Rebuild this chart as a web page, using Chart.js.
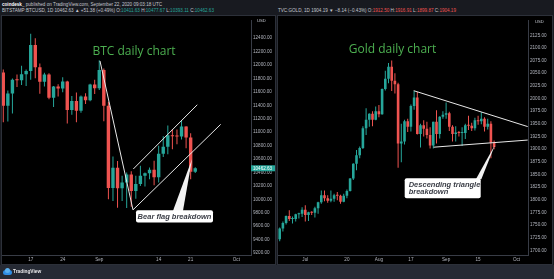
<!DOCTYPE html>
<html>
<head>
<meta charset="utf-8">
<script src="https://cdn.jsdelivr.net/npm/chart.js@4.4.1/dist/chart.umd.min.js"></script>
<style>
    html, body { margin: 0; padding: 0; }
    body {
        width: 554px; height: 279px; position: relative; overflow: hidden;
        background: #181a20; font-family: "Liberation Sans", Arial, sans-serif;
    }
    canvas { position: absolute; top: 16px; background: #000; outline: 1px solid #2c3039; }
    .hdr { position: absolute; font-size: 4.6px; line-height: 5px; color: #c3c6ce; white-space: nowrap; }
    .hdr b { color: #fff; }
    .up { color: #26a69a; }
    .dn { color: #ef5350; }
    .strip { position: absolute; left: 0; top: 265px; width: 554px; height: 14px; background: #262a34; }
    .logo { position: absolute; left: 13px; top: 269px; font-size: 4.8px; font-weight: bold; color: #e8e8ea; }
    .cloud1 { position: absolute; left: 3px; top: 270px; width: 9px; height: 5px; border-radius: 3px; background: #2f8de4; }
    .cloud2 { position: absolute; left: 5px; top: 268px; width: 5px; height: 5px; border-radius: 50%; background: #5ab0f0; }
    .usd { position: absolute; font-size: 4.2px; color: #c3c6ce; }
</style>
</head>
<body>
<div class="hdr" style="left:2px;top:2px"><b>coindesk_</b> published on TradingView.com, September 22, 2020 09:03:18 UTC</div>
<div class="hdr" style="left:2px;top:8px">BITSTAMP:BTCUSD, 1D 10462.63 ▲ +51.38 (+0.49%) O:<span class="up">10411.63</span> H:<span class="up">10477.67</span> L:<span class="up">10393.11</span> C:<span class="up">10462.63</span></div>
<div class="hdr" style="left:278px;top:8px">TVC:GOLD, 1D 1904.19 ▼ −8.14 (−0.43%) O:<span class="dn">1912.50</span> H:<span class="dn">1916.91</span> L:<span class="dn">1899.87</span> C:<span class="dn">1904.19</span></div>

<canvas id="chart-btc" width="273" height="248" style="left:2px"></canvas>
<canvas id="chart-gold" width="274" height="248" style="left:278px"></canvas>
<div class="usd" style="left:257px;top:18px">USD</div>
<div class="usd" style="left:535px;top:19px">USD</div>

<div class="strip"></div>
<div class="cloud1"></div><div class="cloud2"></div>
<div class="logo">TradingView</div>

<script>
// ---- BTC daily, Aug 11 .. Sep 22 2020 (x = bar index) ----
const btcDates = ["Aug 11","Aug 12","Aug 13","Aug 14","Aug 15","Aug 16","Aug 17","Aug 18","Aug 19","Aug 20",
    "Aug 21","Aug 22","Aug 23","Aug 24","Aug 25","Aug 26","Aug 27","Aug 28","Aug 29","Aug 30","Aug 31",
    "Sep 1","Sep 2","Sep 3","Sep 4","Sep 5","Sep 6","Sep 7","Sep 8","Sep 9","Sep 10","Sep 11","Sep 12",
    "Sep 13","Sep 14","Sep 15","Sep 16","Sep 17","Sep 18","Sep 19","Sep 20","Sep 21","Sep 22"];
const btcOpen = [11890,11395,11575,11780,11775,11865,11910,12300,11966,11750,11860,11515,11680,11650,11755,11330,11465,11320,11530,11475,11710,
    11655,11925,11395,10170,10470,10165,10250,10370,10125,10230,10350,10390,10440,10330,10680,10785,10955,10940,10935,11085,10920,10411.63];
const btcHigh = [11935,11620,11800,11860,11990,11935,12468,12400,12023,11885,11880,11690,11715,11820,11765,11540,11590,11545,11580,11720,11780,
    12070,11950,11455,10640,10570,10350,10400,10420,10350,10500,10400,10475,10575,10800,10940,11100,11045,11040,11180,11090,10985,10477.67];
const btcLow = [11150,11160,11280,11675,11705,11690,11780,11805,11573,11680,11490,11375,11530,11595,11130,11260,11150,11290,11420,11460,11570,
    11630,11165,10000,9975,9875,9975,9870,9890,10010,10200,10190,10300,10210,10250,10630,10670,10745,10820,10890,10760,10300,10393.11];
const btcClose = [11395,11575,11780,11775,11865,11910,12300,11966,11750,11860,11515,11680,11650,11755,11330,11465,11320,11530,11475,11710,11655,
    11925,11395,10170,10470,10165,10250,10370,10125,10230,10350,10390,10440,10330,10680,10785,10955,10940,10935,11085,10920,10411.63,10462.63];
const btcTickIdx = [6, 13, 21, 34, 41, 51];
const btcTickLabels = ["17", "24", "Sep", "14", "21", "Oct"];
const btcPriceTicks = [9200,9400,9600,9800,10000,10200,10400,10600,10800,11000,11200,11400,11600,11800,12000,12200,12400];
// drawn trend lines, [bar index, price]
const btcPoleLine = [[21.16, 12061], [28.38, 9843]];
const btcLowerChannel = [[28.38, 9843], [47.57, 11117]];
const btcUpperChannel = [[28.45, 10452], [42.45, 11409]];

// ---- Gold daily, Jun 19 .. Sep 22 2020 (weekdays, x = bar index) ----
const goldOpen = [1722,1743,1754,1768,1762,1762,1771,1772,1780,1770,1775,1774,1783,1795,1809,1803,1798,1802,1809,1808,1796,1808,1817,1842,
    1871,1888,1902,1941,1958,1970,1958,1975,1969,2019,2039,2063,2035,2028,1911,1915,1955,1944,1985,2002,1930,1947,1940,1928,1907,1954,
    1930,1964,1968,1971,1944,1930,1933,1932,1932,1947,1946,1941,1957,1955,1960,1944,1950,1912.50];
const goldHigh = [1745,1757,1769,1779,1767,1772,1774,1785,1789,1776,1777,1786,1796,1818,1818,1809,1818,1812,1815,1810,1812,1820,1843,1872,
    1898,1905,1945,1981,1971,1975,1984,1987,2020,2055,2070,2075,2050,2031,1950,1958,1960,1988,2015,2013,1950,1957,1954,1943,1954,1977,
    1965,1975,1992,1974,1947,1945,1936,1943,1950,1966,1952,1962,1966,1973,1963,1960,1955,1916.91];
const goldLow = [1718,1737,1751,1758,1753,1757,1763,1766,1757,1758,1770,1765,1772,1792,1797,1794,1795,1796,1799,1792,1795,1803,1816,1839,
    1858,1882,1900,1928,1944,1945,1957,1963,1968,2016,2030,2015,2010,1863,1874,1909,1934,1935,1978,1929,1903,1925,1921,1901,1901,1911,
    1921,1960,1960,1936,1915,1915,1925,1906,1920,1938,1936,1937,1948,1949,1935,1939,1882,1899.87];
const goldClose = [1743,1754,1768,1762,1762,1771,1772,1780,1770,1775,1774,1783,1795,1809,1803,1798,1802,1809,1808,1796,1808,1817,1842,1871,
    1888,1902,1941,1958,1970,1958,1975,1969,2019,2039,2063,2035,2028,1911,1915,1955,1944,1985,2002,1930,1947,1940,1928,1907,1954,1930,
    1964,1968,1971,1944,1930,1933,1932,1932,1947,1946,1941,1957,1955,1960,1944,1950,1912.50,1904.19];
const goldTickIdx = [8, 21, 31, 41, 52, 62, 74];
const goldTickLabels = ["Jul", "20", "Aug", "17", "Sep", "15", "Oct"];
const goldPriceTicks = [1700,1725,1750,1775,1800,1825,1850,1875,1900,1925,1950,1975,2000,2025,2050,2075,2100,2125];
const goldTopLine = [[41.87, 2015.5], [77.5, 1944.5]];
const goldBottomLine = [[48.1, 1903.8], [77.5, 1917.9]];

const UP = "#26a69a";
const DOWN = "#ef5350";
const AXIS_TEXT = "#b2b5be";
const AXIS_LINE = "#383c46";

function notesPlugin(n) {
    return {
        id: "notes",
        afterDatasetsDraw(chart) {
            const { ctx, scales: { x, y } } = chart;
            ctx.save();
            // title
            ctx.font = '12px "Open Sans"';
            ctx.fillStyle = "#4caf50";
            ctx.textAlign = "center";
            ctx.textBaseline = "middle";
            ctx.fillText(n.title, x.getPixelForValue(n.titleAt[0]), y.getPixelForValue(n.titleAt[1]));

            // pointer from the box to the breakdown
            const bx = x.getPixelForValue(n.boxAt[0]);
            const by = y.getPixelForValue(n.boxAt[1]);
            ctx.fillStyle = "#f2f2f2";
            ctx.beginPath();
            ctx.moveTo(x.getPixelForValue(n.base[0]), by + 1);
            ctx.lineTo(x.getPixelForValue(n.tip[0]), y.getPixelForValue(n.tip[1]));
            ctx.lineTo(x.getPixelForValue(n.base[1]), by + 1);
            ctx.closePath();
            ctx.fill();

            // callout box
            ctx.fillStyle = "#ffffff";
            ctx.beginPath();
            ctx.roundRect(bx, by, n.boxW, n.boxH, 2);
            ctx.fill();
            ctx.fillStyle = "#3b3e47";
            ctx.font = 'italic bold 7.5px "Liberation Sans"';
            ctx.textAlign = n.center ? "center" : "left";
            const tx = n.center ? bx + n.boxW / 2 : bx + 4;
            n.text.forEach((t, i) => ctx.fillText(t, tx, by + n.firstLine + i * 7.6));
            ctx.restore();
        },
        afterDraw(chart) {
            if (n.lastPrice == null) return;
            const { ctx, chartArea, scales: { y } } = chart;
            const py = y.getPixelForValue(n.lastPrice);
            ctx.save();
            ctx.fillStyle = UP;
            ctx.fillRect(chartArea.right, py - 3, chart.width - chartArea.right, 6);
            ctx.fillStyle = "#ffffff";
            ctx.font = '4.6px "Liberation Sans"';
            ctx.textBaseline = "middle";
            ctx.fillText(n.lastPrice.toFixed(2), chartArea.right + 2, py + 0.3);
            ctx.restore();
        },
    };
}

function candleChart(canvasId, c) {
    const colorOf = (ctx) => (c.close[ctx.dataIndex] >= c.open[ctx.dataIndex] ? UP : DOWN);
    const lineSet = (pts) => ({
        type: "line",
        data: pts.map((p) => ({ x: p[0], y: p[1] })),
        borderColor: "#e8e8e8",
        borderWidth: 1,
        pointRadius: 0,
        order: 0,
    });
    const tickFont = { size: 4.6, family: '"Liberation Sans", Arial, sans-serif' };

    return new Chart(document.getElementById(canvasId), {
        type: "bar",
        data: {
            datasets: [
                {
                    label: "wick",
                    data: c.open.map((_, i) => ({ x: i, y: [c.low[i], c.high[i]] })),
                    backgroundColor: colorOf,
                    barThickness: 1,
                    grouped: false,
                    inflateAmount: 0,
                    minBarLength: 1,
                    order: 2,
                },
                {
                    label: "body",
                    data: c.open.map((_, i) => ({ x: i, y: [c.open[i], c.close[i]] })),
                    backgroundColor: colorOf,
                    barThickness: c.bodyWidth,
                    grouped: false,
                    inflateAmount: 0,
                    minBarLength: 1,
                    order: 1,
                },
                ...c.lines.map(lineSet),
            ],
        },
        options: {
            responsive: false,
            animation: false,
            events: [],
            layout: { padding: 0 },
            plugins: { legend: { display: false }, tooltip: { enabled: false } },
            scales: {
                x: {
                    type: "linear",
                    min: c.xMin,
                    max: c.xMax,
                    offset: false,
                    grid: { display: false, drawTicks: false },
                    border: { display: true, color: AXIS_LINE },
                    afterBuildTicks: (s) => { s.ticks = c.tickIdx.map((v) => ({ value: v })); },
                    afterFit: (s) => { s.height = 9; },
                    ticks: {
                        autoSkip: false,
                        maxRotation: 0,
                        padding: 2,
                        color: AXIS_TEXT,
                        font: tickFont,
                        callback: (v, i) => c.tickLabels[i],
                    },
                },
                y: {
                    position: "right",
                    min: c.yMin,
                    max: c.yMax,
                    grid: { display: false, drawTicks: false },
                    border: { display: true, color: AXIS_LINE },
                    afterBuildTicks: (s) => { s.ticks = c.priceTicks.map((v) => ({ value: v })); },
                    afterFit: (s) => { s.width = 24; },
                    ticks: {
                        padding: 2,
                        color: AXIS_TEXT,
                        font: tickFont,
                        callback: (v) => Number(v).toFixed(2),
                    },
                },
            },
        },
        plugins: [notesPlugin(c.notes)],
    });
}

candleChart("chart-btc", {
    open: btcOpen, high: btcHigh, low: btcLow, close: btcClose,
    tickIdx: btcTickIdx, tickLabels: btcTickLabels, priceTicks: btcPriceTicks,
    lines: [btcPoleLine, btcLowerChannel, btcUpperChannel],
    xMin: -0.28, xMax: 54.2, yMin: 9171, yMax: 12660,
    bodyWidth: 3.4,
    notes: {
        title: "BTC daily chart", titleAt: [28.6, 12203],
        text: ["Bear flag breakdown"], center: true, firstLine: 6.4,
        boxAt: [29.04, 9839], boxW: 77, boxH: 12.4,
        base: [37.1, 39.3], tip: [41.3, 10602],
        lastPrice: btcClose[btcClose.length - 1],
    },
});

candleChart("chart-gold", {
    open: goldOpen, high: goldHigh, low: goldLow, close: goldClose,
    tickIdx: goldTickIdx, tickLabels: goldTickLabels, priceTicks: goldPriceTicks,
    lines: [goldTopLine, goldBottomLine],
    xMin: -0.53, xMax: 77.59, yMin: 1690.7, yMax: 2153.7,
    bodyWidth: 2.6,
    notes: {
        title: "Gold daily chart", titleAt: [35.25, 2096],
        text: ["Descending triangle", "breakdown"], center: false, firstLine: 6.2,
        boxAt: [39.06, 1842.4], boxW: 76, boxH: 20,
        base: [61.3, 63.0], tip: [67.3, 1908.6],
        lastPrice: null,
    },
});
</script>
</body>
</html>
